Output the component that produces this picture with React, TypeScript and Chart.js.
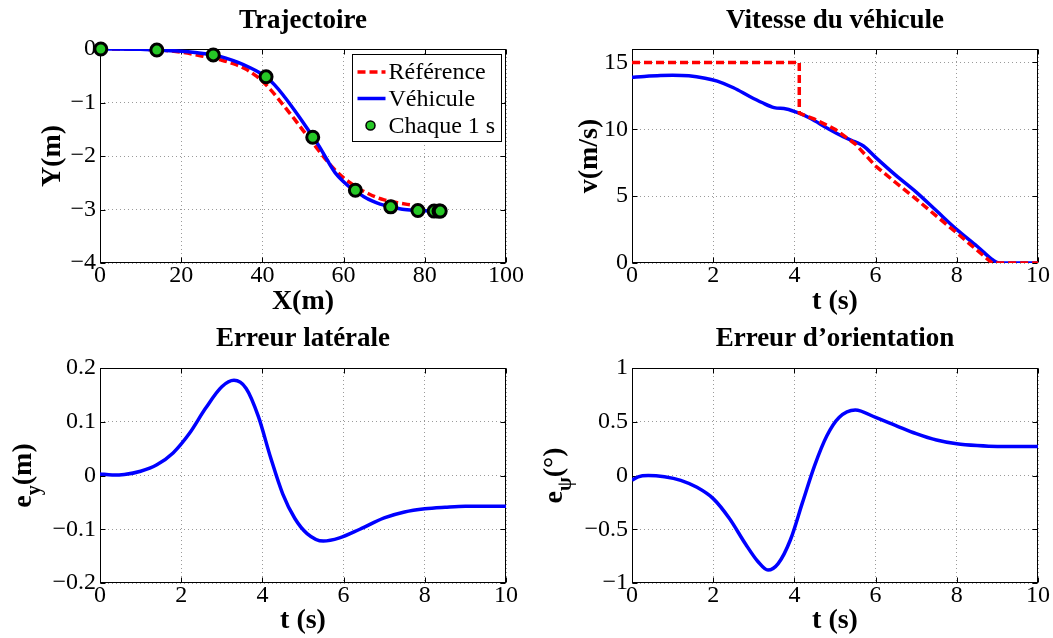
import React, { useEffect, useRef } from 'react';
import { Chart, registerables } from 'chart.js';

Chart.register(...registerables);

const SERIF = '"Liberation Serif", "Times New Roman", Times, serif';
const PAGE_W = 1053;
const PAGE_H = 638;

// ---------- Trajectoire ----------
const trajRefX = [0, 10, 15, 20, 25, 30, 33, 36, 38, 40, 42, 44, 46, 48, 50, 52, 54, 56, 58, 60, 62, 64, 66, 68, 70, 73, 77];
const trajRefY = [0, -0.005, -0.02, -0.06, -0.13, -0.21, -0.28, -0.38, -0.48, -0.6, -0.76, -0.94, -1.13, -1.32, -1.52, -1.71, -1.91, -2.1, -2.27, -2.41, -2.52, -2.62, -2.7, -2.77, -2.82, -2.87, -2.92];
const trajVehX = [0, 10, 14, 20, 24, 28, 31, 34, 37, 39, 41, 43, 45, 47, 49, 51, 52.5, 54, 56, 58, 60, 62, 63, 65, 67, 69, 71.7, 75, 78.3, 84];
const trajVehY = [0, -0.005, -0.02, -0.04, -0.07, -0.11, -0.17, -0.25, -0.35, -0.43, -0.53, -0.67, -0.85, -1.05, -1.26, -1.48, -1.65, -1.82, -2.08, -2.32, -2.48, -2.61, -2.66, -2.76, -2.84, -2.9, -2.95, -3.0, -3.02, -3.03];
const markX = [0.2, 14, 27.9, 40.9, 52.4, 62.9, 71.6, 78.3, 82.3, 83.5, 83.8];
const markY = [0, -0.02, -0.11, -0.52, -1.65, -2.64, -2.95, -3.02, -3.03, -3.03, -3.03];
const trajXTicks = [0, 20, 40, 60, 80, 100];
const trajYTicks = [-4, -3, -2, -1, 0];

// ---------- Vitesse ----------
const vRefT = [0, 4.12, 4.12, 4.5, 5.0, 5.5, 6.0, 6.5, 7.0, 7.5, 8.0, 8.5, 8.87, 10];
const vRefV = [15, 15, 11.2, 10.75, 10.0, 8.9, 7.25, 6.0, 4.78, 3.5, 2.25, 0.95, 0, 0];
const vVehT = [0, 0.3, 0.7, 1.0, 1.4, 1.8, 2.1, 2.5, 2.9, 3.2, 3.5, 3.8, 4.1, 4.4, 4.8, 5.2, 5.5, 5.7, 6.0, 6.5, 7.0, 7.5, 8.0, 8.5, 8.9, 9.05, 10];
const vVehV = [13.88, 13.95, 14.02, 14.04, 14.0, 13.82, 13.6, 13.1, 12.45, 12.0, 11.62, 11.52, 11.22, 10.8, 10.1, 9.45, 9.05, 8.75, 7.9, 6.55, 5.3, 3.9, 2.5, 1.25, 0.2, 0, 0];
const tTicks = [0, 2, 4, 6, 8, 10];
const vTicks = [0, 5, 10, 15];

// ---------- Erreur latérale ----------
const eyT = [0, 0.3, 0.6, 1.0, 1.4, 1.8, 2.2, 2.6, 3.0, 3.3, 3.6, 3.9, 4.2, 4.5, 4.8, 5.1, 5.5, 5.9, 6.4, 7.0, 7.5, 8.0, 8.5, 9.0, 10];
const eyV = [0.003, 0.001, 0.002, 0.008, 0.02, 0.042, 0.078, 0.125, 0.165, 0.177, 0.162, 0.11, 0.034, -0.034, -0.08, -0.108, -0.122, -0.116, -0.1, -0.079, -0.068, -0.062, -0.059, -0.057, -0.057];
const eyTicks = [-0.2, -0.1, 0, 0.1, 0.2];

// ---------- Erreur d'orientation ----------
const epT = [0, 0.15, 0.4, 0.8, 1.2, 1.6, 2.0, 2.4, 2.8, 3.1, 3.35, 3.6, 3.9, 4.2, 4.5, 4.8, 5.1, 5.5, 6.0, 6.5, 7.0, 7.5, 8.0, 8.5, 9.0, 10];
const epV = [-0.045, -0.012, 0, -0.012, -0.045, -0.11, -0.215, -0.4, -0.64, -0.8, -0.88, -0.82, -0.6, -0.25, 0.095, 0.37, 0.54, 0.61, 0.54, 0.465, 0.39, 0.33, 0.295, 0.278, 0.27, 0.27];
const epTicks = [-1, -0.5, 0, 0.5, 1];

const RED = '#ff0000';
const BLUE = '#0000ff';
const GREEN = 'rgb(38,200,38)';

const pts = (xs: number[], ys: number[]) => xs.map((x, i) => ({ x, y: ys[i] }));

const fmt = (v: number) => {
  const s = String(Math.round(Math.abs(v) * 1000) / 1000);
  return v < -1e-9 ? '\u2212' + s : s;
};

const lineDs = (label: string, xs: number[], ys: number[], color: string, dashed: boolean, smooth: boolean) => ({
  label,
  data: pts(xs, ys),
  showLine: true,
  borderColor: color,
  backgroundColor: color,
  borderWidth: 3.5,
  borderDash: dashed ? [8, 4] : [],
  pointRadius: 0,
  pointHoverRadius: 0,
  cubicInterpolationMode: smooth ? 'monotone' : 'default',
  tension: 0,
  borderCapStyle: 'butt',
  borderJoinStyle: 'round',
});

// frame + inward ticks (drawn under the data, like MATLAB)
const framePlugin = {
  id: 'matlabFrame',
  beforeDatasetsDraw(chart: any) {
    const { ctx, chartArea: a } = chart;
    const xs = chart.scales.x;
    const ys = chart.scales.y;
    const l = Math.round(a.left) + 0.5;
    const t = Math.round(a.top) + 0.5;
    const r = Math.round(a.right) - 0.5;
    const b = Math.round(a.bottom) - 0.5;
    const tl = 5;
    ctx.save();
    ctx.strokeStyle = '#000';
    ctx.lineWidth = 1;
    ctx.setLineDash([]);
    ctx.strokeRect(l, t, r - l, b - t);
    ctx.beginPath();
    xs.ticks.forEach((tk: any) => {
      const px = Math.round(xs.getPixelForValue(tk.value)) + 0.5;
      ctx.moveTo(px, b); ctx.lineTo(px, b - tl);
      ctx.moveTo(px, t); ctx.lineTo(px, t + tl);
    });
    ys.ticks.forEach((tk: any) => {
      const py = Math.round(ys.getPixelForValue(tk.value)) + 0.5;
      ctx.moveTo(l, py); ctx.lineTo(l + tl, py);
      ctx.moveTo(r, py); ctx.lineTo(r - tl, py);
    });
    ctx.stroke();
    ctx.restore();
  },
};

// boxed legend inside the axes (top-right)
const makeLegendPlugin = (order: number[]) => ({
  id: 'boxLegend',
  afterDatasetsDraw(chart: any) {
    const { ctx, chartArea: a } = chart;
    const ds = chart.data.datasets;
    const bw = 149, bh = 87;
    const bx = Math.round(a.right - 5 - bw) + 0.5;
    const by = Math.round(a.top + 5) + 0.5;
    ctx.save();
    ctx.fillStyle = '#fff';
    ctx.fillRect(bx, by, bw, bh);
    ctx.strokeStyle = '#000';
    ctx.lineWidth = 1;
    ctx.setLineDash([]);
    ctx.strokeRect(bx, by, bw, bh);
    const rowY = [by + 17.5, by + 44, by + 71];
    ctx.font = `24px ${SERIF}`;
    ctx.textBaseline = 'middle';
    ctx.textAlign = 'left';
    order.forEach((di, k) => {
      const d = ds[di];
      const y = rowY[k];
      if (d.showLine) {
        ctx.beginPath();
        ctx.strokeStyle = d.borderColor;
        ctx.lineWidth = d.borderWidth;
        ctx.lineCap = 'butt';
        ctx.setLineDash(d.borderDash || []);
        ctx.moveTo(bx + 5, y);
        ctx.lineTo(bx + 33, y);
        ctx.stroke();
        ctx.setLineDash([]);
      } else {
        ctx.beginPath();
        ctx.arc(bx + 18, y, 4.5, 0, Math.PI * 2);
        ctx.fillStyle = d.backgroundColor;
        ctx.fill();
        ctx.lineWidth = 1.5;
        ctx.strokeStyle = '#000';
        ctx.stroke();
      }
      ctx.fillStyle = '#000';
      ctx.fillText(d.label, bx + 36, y + 1);
    });
    ctx.restore();
  },
});

// y-axis label with a subscript, e.g. e_y (m)
const makeSubLabelPlugin = (main: string, sub: string, rest: string, baseX: number) => ({
  id: 'subLabel',
  afterDraw(chart: any) {
    const { ctx, chartArea: a } = chart;
    const cy = (a.top + a.bottom) / 2;
    const big = `bold 28px ${SERIF}`;
    const small = `bold 20px ${SERIF}`;
    ctx.save();
    ctx.font = big;
    const w1 = ctx.measureText(main).width;
    const w3 = ctx.measureText(rest).width;
    ctx.font = small;
    const w2 = ctx.measureText(sub).width;
    const total = w1 + w2 + w3;
    ctx.translate(baseX, cy);
    ctx.rotate(-Math.PI / 2);
    ctx.fillStyle = '#000';
    ctx.textAlign = 'left';
    ctx.textBaseline = 'alphabetic';
    let x = -total / 2;
    ctx.font = big;
    ctx.fillText(main, x, 0);
    x += w1;
    ctx.font = small;
    ctx.fillText(sub, x, 9);
    x += w2;
    ctx.font = big;
    ctx.fillText(rest, x, 0);
    ctx.restore();
  },
});

interface Panel {
  L: number; T: number; R: number; B: number;
  title: string; titleCY: number;
  xTitle: string; xTitleCY: number;
  yTitle?: string; yTitleCX?: number;
  ySub?: { main: string; sub: string; rest: string; baseX: number };
  xMin: number; xMax: number; xTicks: number[];
  yMin: number; yMax: number; yTicks: number[];
  datasets: any[];
  legendOrder?: number[];
}

const PANELS: Panel[] = [
  {
    L: 100, T: 49, R: 506, B: 263,
    title: 'Trajectoire', titleCY: 21.5,
    xTitle: 'X(m)', xTitleCY: 302,
    yTitle: 'Y(m)', yTitleCX: 53,
    xMin: 0, xMax: 100, xTicks: trajXTicks,
    yMin: -4, yMax: 0, yTicks: trajYTicks,
    datasets: [
      {
        label: 'Chaque 1 s',
        data: pts(markX, markY),
        showLine: false,
        pointRadius: 6,
        pointHoverRadius: 6,
        pointBorderWidth: 3,
        pointBackgroundColor: GREEN,
        pointBorderColor: '#000',
        backgroundColor: GREEN,
        borderColor: '#000',
        clip: false,
      },
      lineDs('Véhicule', trajVehX, trajVehY, BLUE, false, true),
      lineDs('Référence', trajRefX, trajRefY, RED, true, true),
    ],
    legendOrder: [2, 1, 0],
  },
  {
    L: 632, T: 49, R: 1038, B: 263,
    title: 'Vitesse du véhicule', titleCY: 21.5,
    xTitle: 't (s)', xTitleCY: 302,
    yTitle: 'v(m/s)', yTitleCX: 590,
    xMin: 0, xMax: 10, xTicks: tTicks,
    yMin: 0, yMax: 16, yTicks: vTicks,
    datasets: [
      lineDs('Référence', vRefT, vRefV, RED, true, false),
      lineDs('Véhicule', vVehT, vVehV, BLUE, false, true),
    ],
  },
  {
    L: 100, T: 368, R: 506, B: 583,
    title: 'Erreur latérale', titleCY: 339,
    xTitle: 't (s)', xTitleCY: 621,
    ySub: { main: 'e', sub: 'y', rest: '(m)', baseX: 31 },
    xMin: 0, xMax: 10, xTicks: tTicks,
    yMin: -0.2, yMax: 0.2, yTicks: eyTicks,
    datasets: [lineDs('e_y', eyT, eyV, BLUE, false, true)],
  },
  {
    L: 632, T: 368, R: 1038, B: 583,
    title: 'Erreur d\u2019orientation', titleCY: 339,
    xTitle: 't (s)', xTitleCY: 621,
    ySub: { main: 'e', sub: '\u03c8', rest: '(\u00b0)', baseX: 562 },
    xMin: 0, xMax: 10, xTicks: tTicks,
    yMin: -1, yMax: 1, yTicks: epTicks,
    datasets: [lineDs('e_psi', epT, epV, BLUE, false, true)],
  },
];

function buildConfig(p: Panel): any {
  const YW = 90;
  const XH = 56;
  const tFont = 27;
  const tLH = tFont * 1.2;
  const titleTop = p.titleCY - tLH / 2;
  const TH = p.T - titleTop;
  const aFont = 28;
  const aLH = aFont * 1.2;
  const xBottom = p.B + XH;
  const plugins: any[] = [framePlugin];
  if (p.legendOrder) plugins.push(makeLegendPlugin(p.legendOrder));
  if (p.ySub) plugins.push(makeSubLabelPlugin(p.ySub.main, p.ySub.sub, p.ySub.rest, p.ySub.baseX));

  const tickFont = { family: SERIF, size: 24, lineHeight: 1 };
  const gridOpts = { color: '#9a9a9a', lineWidth: 1, drawTicks: false };
  const borderOpts = { display: false, dash: [1, 3] };

  return {
    type: 'scatter',
    data: { datasets: p.datasets },
    plugins,
    options: {
      responsive: false,
      maintainAspectRatio: false,
      animation: false,
      devicePixelRatio: 1,
      events: [],
      layout: {
        padding: { left: p.L - YW, top: titleTop, right: PAGE_W - p.R, bottom: PAGE_H - xBottom },
      },
      plugins: {
        legend: { display: false },
        tooltip: { enabled: false },
        title: {
          display: true,
          text: p.title,
          color: '#000',
          fullSize: false,
          font: { family: SERIF, size: tFont, weight: 'bold', lineHeight: 1.2 },
          padding: { top: 0, bottom: TH - tLH },
        },
      },
      scales: {
        x: {
          type: 'linear',
          position: 'bottom',
          min: p.xMin,
          max: p.xMax,
          bounds: 'data',
          afterBuildTicks: (s: any) => { s.ticks = p.xTicks.map((v) => ({ value: v })); },
          afterFit: (s: any) => {
            s.height = XH;
            s.paddingLeft = 0; s.paddingRight = 0; s.paddingTop = 0; s.paddingBottom = 0;
          },
          ticks: {
            autoSkip: false, maxRotation: 0, minRotation: 0, padding: 1, color: '#000',
            font: tickFont,
            callback: (v: any) => fmt(Number(v)),
          },
          grid: gridOpts,
          border: borderOpts,
          title: {
            display: true,
            text: p.xTitle,
            color: '#000',
            font: { family: SERIF, size: aFont, weight: 'bold', lineHeight: 1.2 },
            padding: { top: 0, bottom: xBottom - aLH / 2 - p.xTitleCY },
          },
        },
        y: {
          type: 'linear',
          position: 'left',
          min: p.yMin,
          max: p.yMax,
          bounds: 'data',
          afterBuildTicks: (s: any) => { s.ticks = p.yTicks.map((v) => ({ value: v })); },
          afterFit: (s: any) => {
            s.width = YW;
            s.paddingLeft = 0; s.paddingRight = 0; s.paddingTop = 0; s.paddingBottom = 0;
          },
          ticks: {
            autoSkip: false, padding: 4, color: '#000',
            font: tickFont,
            callback: (v: any) => fmt(Number(v)),
          },
          grid: gridOpts,
          border: borderOpts,
          title: p.yTitle
            ? {
                display: true,
                text: p.yTitle,
                color: '#000',
                font: { family: SERIF, size: aFont, weight: 'bold', lineHeight: 1.2 },
                padding: { top: (p.yTitleCX as number) - (p.L - YW) - aLH / 2, bottom: 0 },
              }
            : { display: false },
        },
      },
    },
  };
}

export default function App() {
  const canvases = useRef<(HTMLCanvasElement | null)[]>([]);

  useEffect(() => {
    const charts = PANELS.map((p, i) => new Chart(canvases.current[i] as HTMLCanvasElement, buildConfig(p)));
    return () => charts.forEach((c) => c.destroy());
  }, []);

  return (
    <div style={{ position: 'fixed', left: 0, top: 0, width: PAGE_W, height: PAGE_H, background: '#fff', overflow: 'hidden' }}>
      {PANELS.map((_, i) => (
        <canvas
          key={i}
          ref={(el) => { canvases.current[i] = el; }}
          width={PAGE_W}
          height={PAGE_H}
          style={{ position: 'absolute', left: 0, top: 0, width: PAGE_W, height: PAGE_H }}
        />
      ))}
    </div>
  );
}
